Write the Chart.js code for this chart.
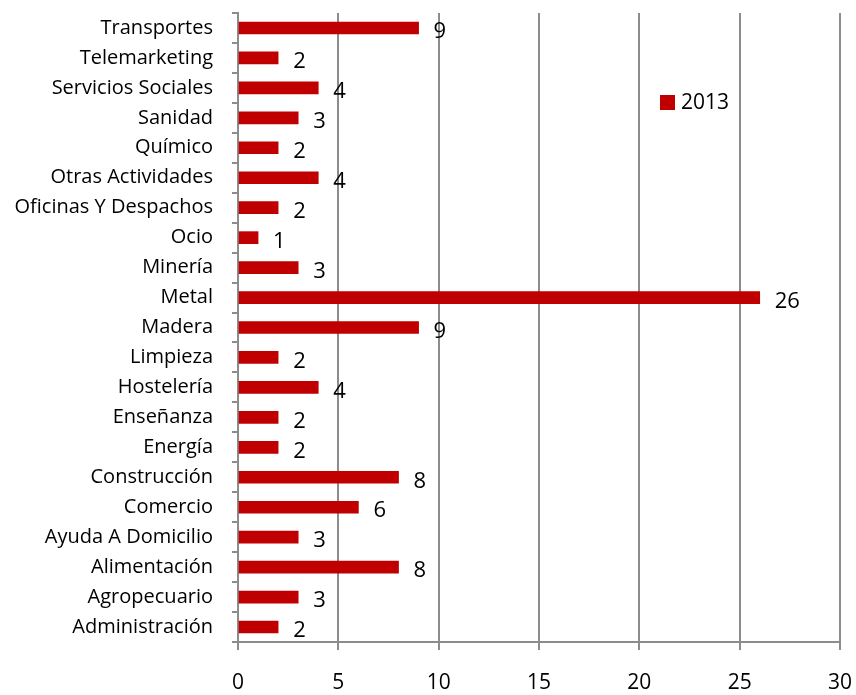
<!DOCTYPE html>
<html lang="es">
<head>
<meta charset="UTF-8">
<title>2013</title>
<style>
  html, body { margin: 0; padding: 0; background: #fff; }
  #wrap { width: 856px; height: 695px; }
</style>
<script src="https://cdn.jsdelivr.net/npm/chart.js"></script>
</head>
<body>
<div id="wrap"><canvas id="chart" width="856" height="695"></canvas></div>
<script>
// categories, top to bottom
const sectores = [
  'Transportes', 'Telemarketing', 'Servicios Sociales', 'Sanidad', 'Químico',
  'Otras Actividades', 'Oficinas Y Despachos', 'Ocio', 'Minería', 'Metal',
  'Madera', 'Limpieza', 'Hostelería', 'Enseñanza', 'Energía',
  'Construcción', 'Comercio', 'Ayuda A Domicilio', 'Alimentación',
  'Agropecuario', 'Administración'
];
const valores2013 = [9, 2, 4, 3, 2, 4, 2, 1, 3, 26, 9, 2, 4, 2, 2, 8, 6, 3, 8, 3, 2];
const serieNombre = '2013';

const FONT = '"Open Sans", Lato, sans-serif';
const rojo = '#C00000';
const gris = '#8c8c8c';

// value labels right of each bar
const etiquetas = {
  id: 'etiquetas',
  afterDatasetsDraw(chart) {
    const ctx = chart.ctx;
    const meta = chart.getDatasetMeta(0);
    ctx.save();
    ctx.fillStyle = '#000';
    ctx.font = '22px ' + FONT;
    ctx.textAlign = 'left';
    ctx.textBaseline = 'middle';
    meta.data.forEach((bar, i) => {
      ctx.fillText(String(valores2013[i]), bar.x + 15, bar.y + 4);
    });
    ctx.restore();
  }
};

// legend box inside the plot
const leyenda = {
  id: 'leyenda',
  afterDraw(chart) {
    const ctx = chart.ctx;
    ctx.save();
    ctx.fillStyle = rojo;
    ctx.fillRect(660, 95, 15, 15);
    ctx.fillStyle = '#000';
    ctx.font = '21px ' + FONT;
    ctx.textBaseline = 'middle';
    ctx.fillText(chart.data.datasets[0].label, 681, 103);
    ctx.restore();
  }
};

const ctx = document.getElementById('chart').getContext('2d');
new Chart(ctx, {
  type: 'bar',
  data: {
    labels: sectores,
    datasets: [{
      label: serieNombre,
      data: valores2013,
      backgroundColor: rojo,
      barThickness: 12
    }]
  },
  options: {
    indexAxis: 'y',
    responsive: false,
    animation: false,
    layout: { padding: { top: 13, right: 16, left: 0, bottom: 0 } },
    plugins: {
      legend: { display: false },
      tooltip: { enabled: false }
    },
    scales: {
      x: {
        min: 0,
        max: 30,
        ticks: { stepSize: 5, color: '#000', font: { family: FONT, size: 21 }, padding: 20 },
        grid: { color: gris, lineWidth: 2, tickLength: 8 },
        border: { color: gris, width: 2 },
        afterFit(scale) {
          scale.height = 53;
          scale.paddingLeft = 0;
          scale.paddingRight = 0;
        }
      },
      y: {
        ticks: { color: '#000', font: { family: FONT, size: 20 }, padding: 19, autoSkip: false },
        grid: { offset: true, drawOnChartArea: false, color: gris, lineWidth: 2, tickLength: 6 },
        border: { color: gris, width: 2 },
        afterFit(scale) {
          scale.width = 238;
          scale.paddingTop = 0;
          scale.paddingBottom = 0;
        }
      }
    }
  },
  plugins: [etiquetas, leyenda]
});
</script>
</body>
</html>
